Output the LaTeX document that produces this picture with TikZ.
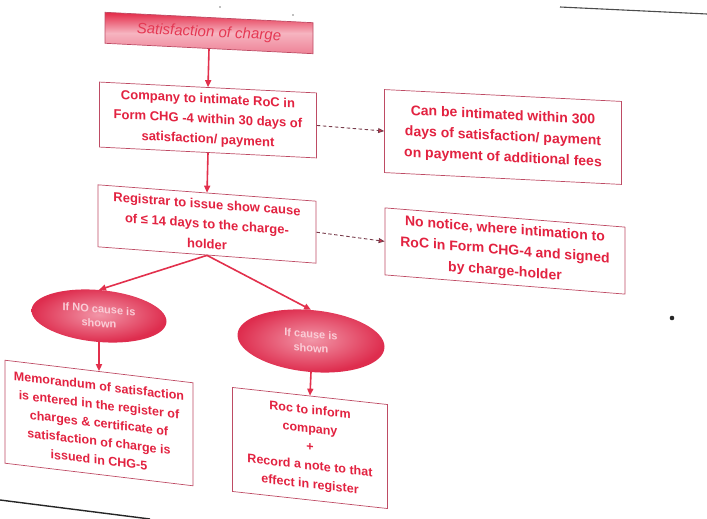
\documentclass[tikz,border=0pt]{standalone}
\usepackage{fontspec}
\setmainfont{Liberation Sans}
\usetikzlibrary{arrows.meta,shapes.geometric}

\definecolor{inkred}{RGB}{226,34,64}
\definecolor{edgered}{RGB}{190,75,100}
\definecolor{linkred}{RGB}{226,48,76}
\definecolor{dashred}{RGB}{120,60,75}
\definecolor{pinktxt}{RGB}{250,205,215}
\definecolor{headred}{RGB}{228,40,70}
\definecolor{headmid}{RGB}{246,180,192}
\definecolor{headlow}{RGB}{238,130,150}
\definecolor{blobin}{RGB}{242,150,168}
\definecolor{blobout}{RGB}{222,45,78}

\begin{document}
\begin{tikzpicture}[x=1pt,y=-1pt,
  stepbox/.style={draw=edgered, line width=0.7pt, align=center, text=inkred,
    inner sep=2pt},
  fsmall/.style={font=\bfseries\fontsize{13}{20}\selectfont},
  fbig/.style={font=\bfseries\fontsize{14}{21}\selectfont},
  flast/.style={font=\bfseries\fontsize{12.5}{18.5}\selectfont},
  blob/.style={ellipse, inner sep=0pt, shading=radial, inner color=blobin,
    outer color=blobout, text=pinktxt, align=center,
    font=\bfseries\fontsize{11}{14}\selectfont},
  flow/.style={draw=linkred, line width=1.6pt, -{Triangle[length=7pt,width=6pt]}},
  dflow/.style={draw=dashred, line width=0.9pt, dash pattern=on 3.5pt off 2.5pt,
    -{Triangle[length=6pt,width=5pt,fill=linkred]}}
]
\useasboundingbox (0,0) rectangle (707,519);

% heading
\node[draw=edgered, line width=0.7pt, minimum width=208pt, minimum height=31pt,
  top color=headred, bottom color=headlow, middle color=headmid,
  text=inkred!90!white, font=\itshape\fontsize{15}{18}\selectfont, yslant=-0.05]
  (head) at (209,33) {Satisfaction of charge};

% main column
\node[stepbox, fsmall, minimum width=217pt, minimum height=65pt, yslant=-0.05]
  (intimate) at (208,120)
  {Company to intimate RoC in\\Form CHG -4 within 30 days of\\satisfaction/ payment};
\node[stepbox, fsmall, minimum width=218pt, minimum height=62pt, yslant=-0.075]
  (showcause) at (207,224)
  {Registrar to issue show cause\\of \mbox{≤} 14 days to the charge-\\holder};

% side notes
\node[stepbox, fbig, minimum width=237pt, minimum height=83pt, yslant=-0.05]
  (late) at (503,137)
  {Can be intimated within 300\\days of satisfaction/ payment\\on payment of additional fees};
\node[stepbox, fbig, minimum width=240pt, minimum height=67pt, yslant=-0.08]
  (nonotice) at (505,251)
  {No notice, where intimation to\\RoC in Form CHG-4 and signed\\by charge-holder};

% the two outcomes
\node[blob, minimum width=135pt, minimum height=52pt, yslant=-0.08]
  (nocause) at (99,316) {If NO cause is\\shown};
\node[blob, minimum width=147pt, minimum height=62pt, yslant=-0.08]
  (cause) at (311,341) {If cause is\\shown};

\node[stepbox, flast, minimum width=188pt, minimum height=103pt, yslant=-0.12]
  (memo) at (99,423)
  {Memorandum of satisfaction\\is entered in the register of\\charges \& certificate of\\satisfaction of charge is\\issued in CHG-5};
\node[stepbox, flast, minimum width=155pt, minimum height=104pt, yslant=-0.11]
  (inform) at (310,448)
  {Roc to inform\\company\\+\\Record a note to that\\effect in register};

% connectors
\draw[flow] (head.south) -- (intimate.north);
\draw[flow] (intimate.south) -- (showcause.north);
\draw[dflow] (intimate.east) -- (late.west);
\draw[dflow] (showcause.east) -- (nonotice.west);
\draw[flow] (showcause.south) -- (nocause.north);
\draw[flow] (showcause.south) -- (cause.north);
\draw[flow] (nocause.south) -- (memo.north);
\draw[flow] (cause.south) -- (inform.north);

% page edges and specks
\draw[line width=1.4pt, black!85] (0,500) -- (150,519);
\draw[line width=1.1pt, black!70] (560,7) -- (707,14);
\fill[black!85] (672,318) circle (2.3pt);
\fill[black!50] (220,7) circle (0.9pt);
\fill[black!50] (293,15) circle (0.9pt);
\end{tikzpicture}
\end{document}
